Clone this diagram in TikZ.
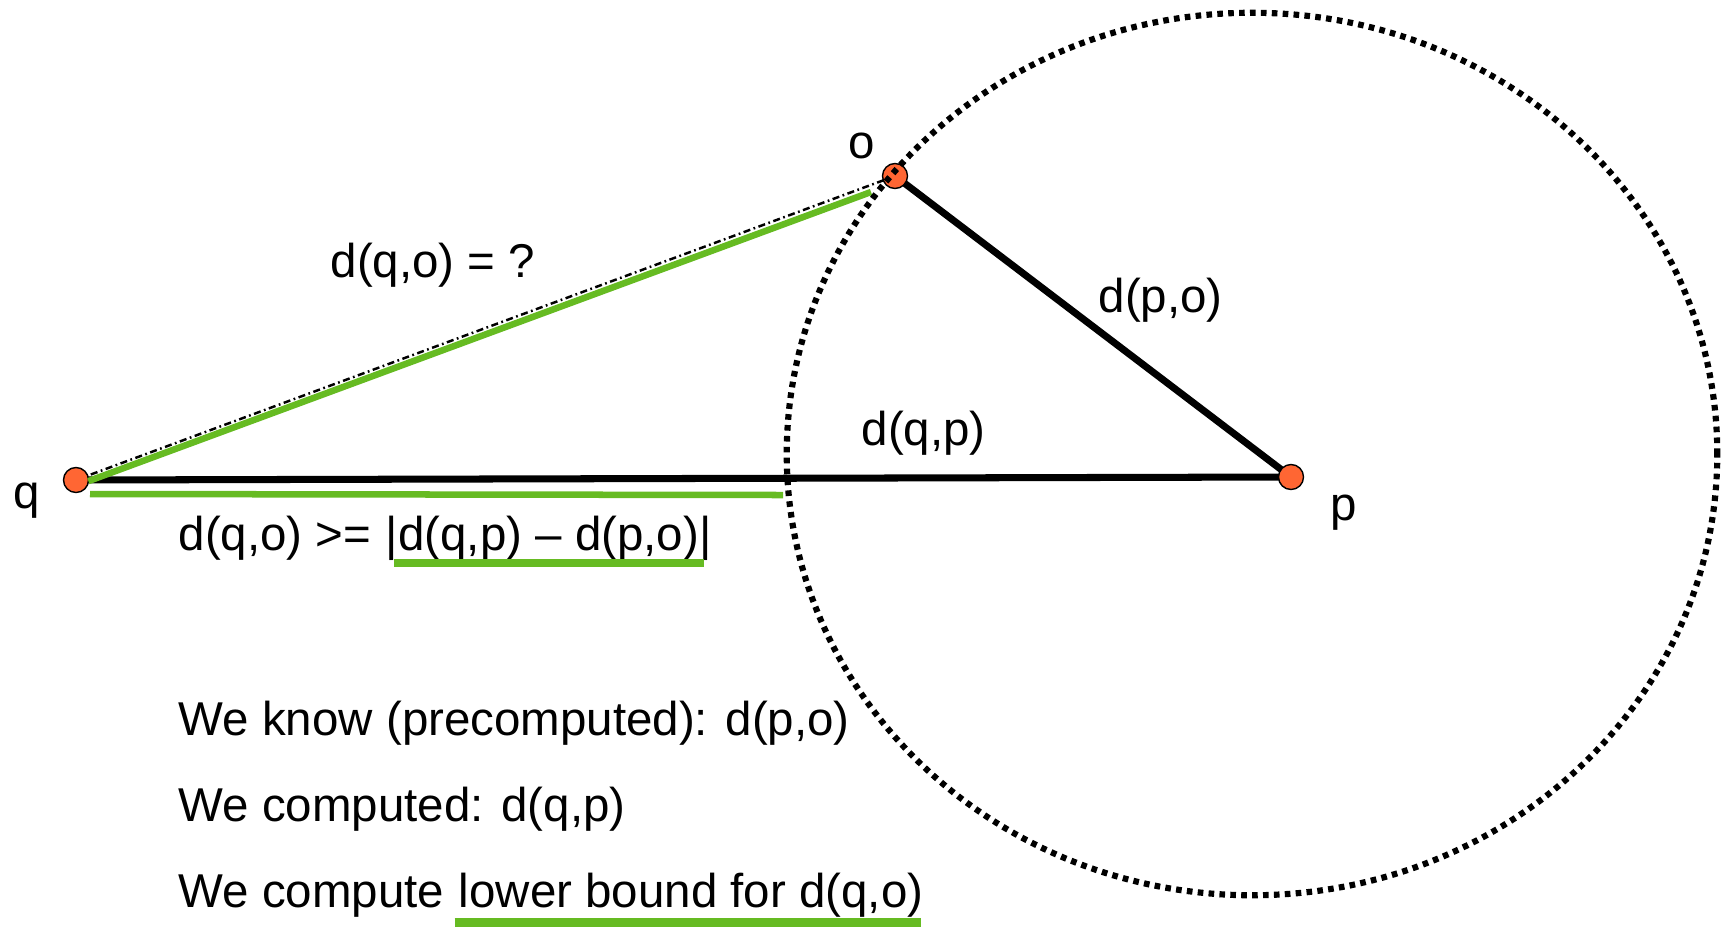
\documentclass[tikz,border=0pt]{standalone}
\usepackage{fontspec}
\setmainfont{Liberation Sans}
\usepackage{xcolor}
\usetikzlibrary{positioning, backgrounds}

\definecolor{ptorange}{RGB}{255,102,51}
\definecolor{bndgreen}{RGB}{102,187,34}

\begin{document}
\begin{tikzpicture}[
    x=0.01cm, y=-0.01cm,
    pt/.style    = {circle, draw, thin, fill=ptorange, minimum size=0.25cm, inner sep=0pt},
    lbl/.style   = {inner sep=0pt, anchor=base west, font=\fontsize{13.5}{16}\selectfont},
    edge/.style  = {line width=2pt},
    guess/.style = {line width=0.7pt, dash pattern=on 2pt off 1pt on 0.5pt off 1pt},
    bound/.style = {line width=1.85pt, bndgreen},
    uline/.style = {line width=2.5pt, bndgreen},
    ball/.style  = {line width=1.75pt, dash pattern=on 1.6pt off 1.5pt},
  ]
    \useasboundingbox (0,0) rectangle (1728,930);

    % --- the three objects ---
    \node[pt] (q) at (76,480)  {};
    \node[pt] (o) at (895,176) {};
    \node[pt] (p) at (1291,477) {};

    \node[lbl] (ql) at (13,508)   {q};
    \node[lbl] (ol) at (848,158)  {o};
    \node[lbl] (pl) at (1330,520) {p};

    % --- known distances and the unknown one ---
    \begin{pgfonlayer}{background}
      \draw[edge]  (q.center) -- (p.center);
      \draw[edge]  (o.center) -- (p.center);
      \draw[guess] (q.center) -- (o.center);
    \end{pgfonlayer}

    \node[lbl] (dqo) at (330,277)  {d(q,o) = ?};
    \node[lbl] (dpo) at (1098,312) {d(p,o)};
    \node[lbl] (dqp) at (861,445)  {d(q,p)};

    % --- green bounds ---
    \coordinate (ge) at (871,192);
    \coordinate (hs) at (90,494);
    \coordinate (he) at (783,495);
    \draw[bound] ([yshift=-1.6pt]q.20) -- (ge);
    \draw[bound] (hs) -- (he);

    % --- inequality ---
    \node[lbl] (ineq) at (178,550) {d(q,o) >=};
    \node[lbl] (diff) at ([xshift=3.75pt]ineq.base east) {|d(q,p) \textendash{} d(p,o)|};
    \draw[uline] ([xshift=2.6pt, yshift=-3.7pt]diff.base west) -- ([xshift=-2.4pt, yshift=-3.7pt]diff.base east);

    % --- notes ---
    \node[lbl] (kn) at (178,735) {We know (precomputed): d(p,o)};
    \node[lbl] (cd) at (178,821) {We computed: d(q,p)};
    \node[lbl] (cp) at (178,907) {We compute};
    \node[lbl] (lb) at ([xshift=3.75pt]cp.base east) {lower bound for d(q,o)};
    \draw[uline] ([xshift=-1pt, yshift=-4.5pt]lb.base west) -- ([xshift=-1pt, yshift=-4.5pt]lb.base east);

    % --- ball around p through o ---
    \draw[ball] (1252,454) ellipse [x radius=4.65cm, y radius=4.41cm];
  \end{tikzpicture}
\end{document}
